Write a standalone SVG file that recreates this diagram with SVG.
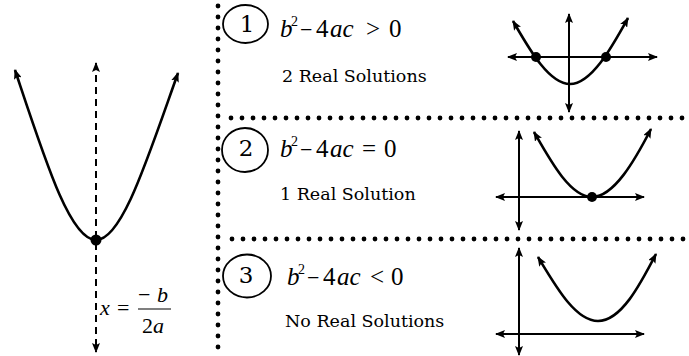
<svg xmlns="http://www.w3.org/2000/svg" width="689" height="356" viewBox="0 0 689 356">
<style>
.dot{stroke:#000;stroke-width:4.8;stroke-linecap:round;stroke-dasharray:0 11;fill:none}
.curve{stroke:#000;stroke-width:2.6;fill:none;marker-start:url(#ah);marker-end:url(#ah)}
.axis{stroke:#000;stroke-width:2;fill:none;marker-start:url(#ah);marker-end:url(#ah)}
.math{font-family:"Liberation Serif","Times New Roman",serif;font-size:25px;fill:#000}
.it{font-style:italic}
.sup{font-size:14px}
.mn{font-size:22px}
.lbl{font-family:"DejaVu Serif",serif;font-size:17.5px;fill:#000}
.num{font-family:"DejaVu Serif",serif;font-size:23px;fill:#000;text-anchor:middle}
.ring{fill:none;stroke:#000;stroke-width:1.8}
</style>
<defs>
<marker id="ah" viewBox="0 0 10 8" refX="9" refY="4" markerWidth="10" markerHeight="8" markerUnits="userSpaceOnUse" orient="auto-start-reverse">
<path d="M0,0 L10,4 L0,8 L2,4 z" fill="#000"/>
</marker>
</defs>
<rect width="689" height="356" fill="#fff"/>
<g id="dividers">
<line class="dot" x1="218" y1="6" x2="218" y2="356"/>
<line class="dot" x1="231" y1="118" x2="689" y2="118"/>
<line class="dot" x1="232" y1="239" x2="689" y2="239"/>
</g>
<g id="main-parabola">
<path d="M96,63 L96,352" stroke="#000" stroke-width="2" fill="none" stroke-dasharray="7 5" marker-start="url(#ah)" marker-end="url(#ah)"/>
<path class="curve" d="M15,70 C45,160 70,240 96,240 C122,240 147,160 178,73"/>
<circle cx="96" cy="240" r="5.5"/>
<text class="math" style="font-size:22px" x="100" y="315"><tspan class="it">x</tspan><tspan x="117">=</tspan></text>
<text class="math" style="font-size:22px" x="138" y="302">−<tspan class="it" x="157">b</tspan></text>
<line x1="138" y1="309" x2="171" y2="309" stroke="#000" stroke-width="1.2"/>
<text class="math" style="font-size:22px" x="142" y="333">2<tspan class="it">a</tspan></text>
</g>
<g id="case1">
<ellipse class="ring" cx="245.5" cy="24" rx="22.5" ry="19"/>
<text class="num" x="247" y="32">1</text>
<text class="math" y="37"><tspan class="it" x="280">b</tspan><tspan class="sup" x="291" dy="-11">2</tspan><tspan class="mn" x="300" dy="11">−</tspan><tspan x="316">4</tspan><tspan class="it" x="330">ac</tspan><tspan x="366">&gt;</tspan><tspan x="389">0</tspan></text>
<text class="lbl" x="282" y="82">2 Real Solutions</text>
</g>
<g id="case2">
<ellipse class="ring" cx="245" cy="150" rx="23" ry="22"/>
<text class="num" x="246" y="156">2</text>
<text class="math" y="157"><tspan class="it" x="280">b</tspan><tspan class="sup" x="291" dy="-11">2</tspan><tspan class="mn" x="300" dy="11">−</tspan><tspan x="316">4</tspan><tspan class="it" x="330">ac</tspan><tspan x="362">=</tspan><tspan x="384">0</tspan></text>
<text class="lbl" x="280" y="200">1 Real Solution</text>
</g>
<g id="case3">
<ellipse class="ring" cx="247" cy="276" rx="24" ry="21.5"/>
<text class="num" x="246" y="283">3</text>
<text class="math" y="285"><tspan class="it" x="287">b</tspan><tspan class="sup" x="298" dy="-11">2</tspan><tspan class="mn" x="307" dy="11">−</tspan><tspan x="323">4</tspan><tspan class="it" x="337">ac</tspan><tspan x="370">&lt;</tspan><tspan x="391">0</tspan></text>
<text class="lbl" x="285" y="327">No Real Solutions</text>
</g>
<g id="graph1">
<path class="axis" d="M569,14 L569,112"/>
<path class="axis" d="M508,57 L657,57"/>
<path class="curve" d="M513,21 C527,45 548,84 570,84 C592,84 613,45 628,18"/>
<circle cx="536" cy="57" r="5"/>
<circle cx="606" cy="57" r="5"/>
</g>
<g id="graph2">
<path class="axis" d="M519,131 L519,230"/>
<path class="axis" d="M496,197 L644,197"/>
<path class="curve" d="M534,132 C550,160 570,197 592,197 C614,197 635,160 651,129"/>
<circle cx="592" cy="197" r="5"/>
</g>
<g id="graph3">
<path class="axis" d="M519,248 L519,355"/>
<path class="axis" d="M496,334 L644,334"/>
<path class="curve" d="M538,257 C555,285 575,321 598,321 C621,321 640,285 656,254"/>
</g>
</svg>
